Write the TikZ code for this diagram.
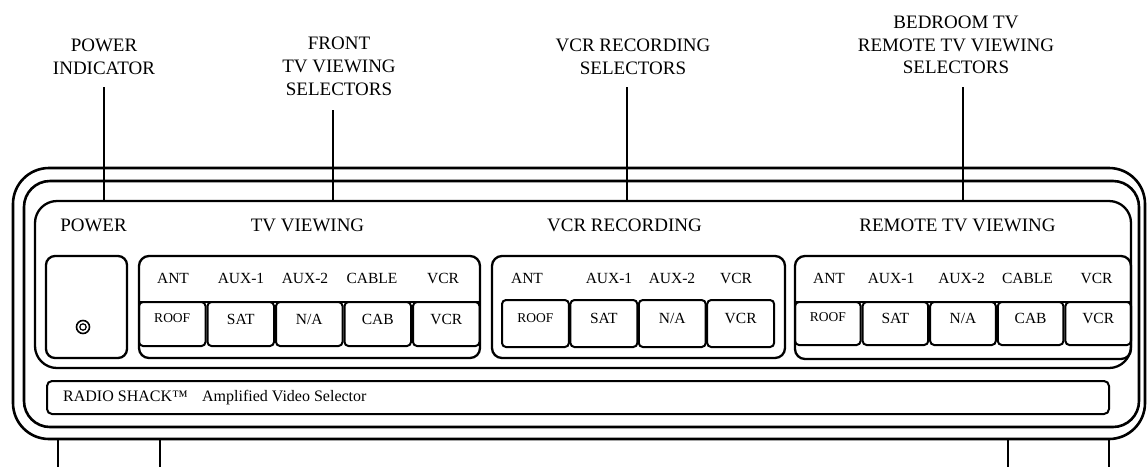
\documentclass[tikz,border=0pt]{standalone}
\usepackage{fontspec}
\setmainfont{Liberation Serif}
\begin{document}
\begin{tikzpicture}[x=1pt,y=-1pt,
  body/.style={draw, line width=2.6pt, rounded corners=#1},
  boxline/.style={draw, line width=2.3pt, rounded corners=#1},
  btn/.style={draw, line width=2pt, rounded corners=4pt, inner sep=0pt, outer sep=0pt,
              anchor=north west, minimum height=#1},
  leader/.style={draw, line width=1.4pt},
  toplbl/.style={inner sep=0pt, anchor=north, align=center,
                 font=\fontsize{19}{22.8}\selectfont},
  panellbl/.style={inner sep=0pt, anchor=base, font=\fontsize{19}{22}\selectfont},
  grplbl/.style={inner sep=0pt, anchor=base, font=\fontsize{15.5}{18}\selectfont},
  btnlbl/.style={inner sep=0pt, anchor=base, font=\fontsize{15.5}{18}\selectfont},
  rooflbl/.style={inner sep=0pt, anchor=base, font=\fontsize{13.5}{16}\selectfont},
  striplbl/.style={inner sep=0pt, anchor=base west, font=\fontsize{16}{18}\selectfont}]
\useasboundingbox (0,0) rectangle (1148,467);

% ---- body outlines
\draw[body=36pt] (13,168) rectangle (1145,439);
\draw[body=26pt] (24,181) rectangle (1139,427);
\draw[boxline=22pt] (35,201) rectangle (1131,368);
\coordinate (paneltop) at (0,201);
% label strip
\draw[boxline=5pt, line width=2pt] (47,381) rectangle (1109,414);
\node[striplbl] (brand) at (63,401.7) {RADIO SHACK™\hspace{0.9em}Amplified Video Selector};

% legs
\coordinate (legA) at (58,439);   \draw[leader, line width=2pt] (legA) -- (58,467);
\coordinate (legB) at (160,439);  \draw[leader, line width=2pt] (legB) -- (160,467);
\coordinate (legC) at (1008,439); \draw[leader, line width=2pt] (legC) -- (1008,467);
\coordinate (legD) at (1109,439); \draw[leader, line width=2pt] (legD) -- (1109,467);

% ---- top callout labels and leaders
\node[toplbl] (lblPower) at (104,38.8) {POWER\\INDICATOR};
\node[toplbl] (lblFront) at (339,37.1) {FRONT\\TV VIEWING\\SELECTORS};
\node[toplbl] (lblVcr) at (633,38.8) {VCR RECORDING\\SELECTORS};
\node[toplbl] (lblBed) at (956,15.6) {BEDROOM TV\\REMOTE TV VIEWING\\SELECTORS};
\coordinate (ldPower) at (104,87);
\coordinate (ldFront) at (333,110);
\coordinate (ldVcr) at (627,87);
\coordinate (ldBed) at (963,87);
\draw[leader] (ldPower) -- (ldPower |- paneltop);
\draw[leader] (ldFront) -- (ldFront |- paneltop);
\draw[leader] (ldVcr) -- (ldVcr |- paneltop);
\draw[leader] (ldBed) -- (ldBed |- paneltop);

% ---- panel section titles
\node[panellbl] (tPower) at (93.5,231.5) {POWER};
\node[panellbl] (tTv) at (307.5,231.5) {TV VIEWING};
\node[panellbl] (tVcr) at (624.5,231.5) {VCR RECORDING};
\node[panellbl] (tRem) at (957.5,231.5) {REMOTE TV VIEWING};

% ---- power box
\draw[boxline=9pt] (46,256) rectangle (127,358);
\draw[line width=1.6pt] (83,327) circle (6.5);
\draw[line width=1.2pt] (83,327) circle (3.2);

% ---- TV viewing group
\draw[boxline=10pt] (139,256) rectangle (480,358);
\draw[line width=2pt] (139,302) -- (480,302);
\foreach \t/\x [count=\i] in {ANT/173,AUX-1/241,AUX-2/305,CABLE/372,VCR/443}
  \node[grplbl] (tvIn\i) at (\x,283) {\t};
\foreach \t [count=\i] in {SAT,N/A,CAB,VCR} {
  \node[btn=44pt, minimum width=66.5pt] (tvB\i) at ({139+\i*68.5},302) {};
  \node[btnlbl] (tvL\i) at (tvB\i.center) {\t};
}
\node[btn=44pt, minimum width=66.5pt] (tvB0) at (139,302) {};
\node[rooflbl] (tvL0) at ([yshift=2pt]tvB0.center) {ROOF};

% ---- VCR recording group
\draw[boxline=10pt] (492,256) rectangle (785,358);
\foreach \t/\x [count=\i] in {ANT/527,AUX-1/609,AUX-2/672,VCR/736}
  \node[grplbl] (vcIn\i) at (\x,283) {\t};
\foreach \t [count=\i] in {SAT,N/A,VCR} {
  \node[btn=47pt, minimum width=66.9pt] (vcB\i) at ({502+\i*68.4},300) {};
  \node[btnlbl] (vcL\i) at (vcB\i.center) {\t};
}
\node[btn=47pt, minimum width=66.9pt] (vcB0) at (502,300) {};
\node[rooflbl] (vcL0) at ([yshift=1.5pt]vcB0.center) {ROOF};

% ---- Remote TV viewing group
\draw[boxline=10pt] (795,256) rectangle (1131,359);
\draw[line width=2pt] (795,302) -- (1131,302);
\foreach \t/\x [count=\i] in {ANT/829,AUX-1/891,AUX-2/961.5,CABLE/1027.5,VCR/1096.5}
  \node[grplbl] (rmIn\i) at (\x,283) {\t};
\foreach \t [count=\i] in {SAT,N/A,CAB,VCR} {
  \node[btn=43pt, minimum width=65.6pt] (rmB\i) at ({795+\i*67.6},302) {};
  \node[btnlbl] (rmL\i) at (rmB\i.center) {\t};
}
\node[btn=43pt, minimum width=65.6pt] (rmB0) at (795,302) {};
\node[rooflbl] (rmL0) at ([yshift=2pt]rmB0.center) {ROOF};
\end{tikzpicture}
\end{document}
